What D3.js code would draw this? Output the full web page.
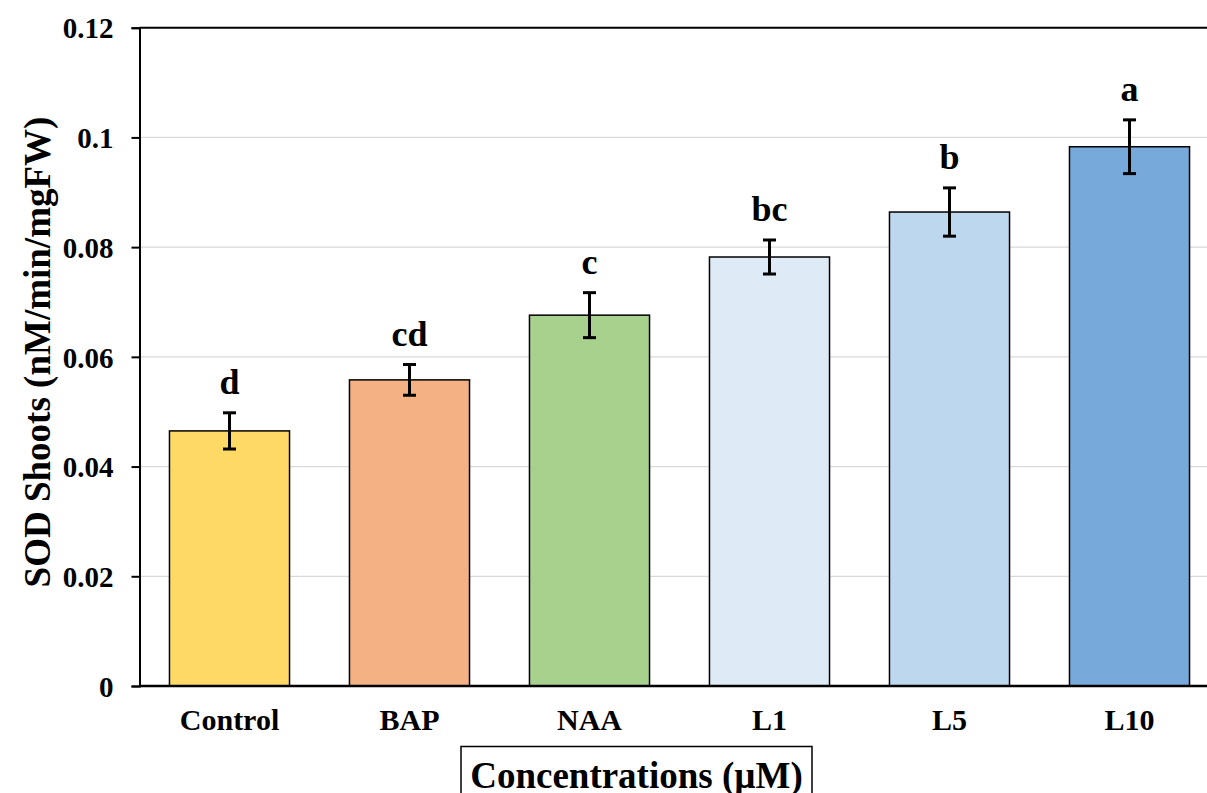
<!DOCTYPE html>
<html>
<head>
<style>
  body { margin: 0; background: #fff; }
  text { font-family: "Liberation Serif", "Times New Roman", serif; font-weight: bold; fill: #000; }
  .grid line { stroke: #d9d9d9; stroke-width: 1.3; }
</style>
<script src="https://d3js.org/d3.v7.min.js"></script>
</head>
<body>
<svg width="1207" height="793"></svg>
<script>
// chart data
var categories = ["Control", "BAP", "NAA", "L1", "L5", "L10"];
var values = [0.0465, 0.0558, 0.0676, 0.0782, 0.0864, 0.0983];
var errors = [0.0033, 0.0028, 0.0041, 0.0031, 0.0044, 0.0049];
var letters = ["d", "cd", "c", "bc", "b", "a"];
var yTicks = [0, 0.02, 0.04, 0.06, 0.08, 0.1, 0.12];
var colors = ["#FFD966", "#F4B183", "#A9D18E", "#DEEBF7", "#BDD7EE", "#77AADB"];

var svg = d3.select("svg");
var plotLeft = 139.5, plotTop = 27.7, plotBottom = 686, plotRight = 1219.5;

var x = d3.scaleBand().domain(categories).range([plotLeft, plotRight]).paddingInner(0.333).paddingOuter(0.1665);
var y = d3.scaleLinear().domain([0, 0.12]).range([plotBottom, plotTop]);

// gridlines
svg.append("g").attr("class", "grid")
  .selectAll("line").data(yTicks.filter(function(d) { return d > 0 && d < 0.12; }))
  .enter().append("line")
  .attr("x1", plotLeft).attr("x2", 1207)
  .attr("y1", function(d) { return y(d); }).attr("y2", function(d) { return y(d); });

// top border
svg.append("line").attr("x1", plotLeft).attr("x2", 1207).attr("y1", y(0.12)).attr("y2", y(0.12))
  .attr("stroke", "#000").attr("stroke-width", 2);

// bars
svg.append("g").selectAll("rect").data(values).enter().append("rect")
  .attr("x", function(d, i) { return x(categories[i]); })
  .attr("y", function(d) { return y(d); })
  .attr("width", x.bandwidth())
  .attr("height", function(d) { return y(0) - y(d); })
  .attr("fill", function(d, i) { return colors[i]; })
  .attr("stroke", "#000").attr("stroke-width", 1.5);

// error bars
var eb = svg.append("g").selectAll("g").data(values).enter().append("g")
  .attr("stroke", "#000").attr("stroke-width", 3);
eb.append("line")
  .attr("x1", function(d, i) { return x(categories[i]) + x.bandwidth() / 2; })
  .attr("x2", function(d, i) { return x(categories[i]) + x.bandwidth() / 2; })
  .attr("y1", function(d, i) { return y(d + errors[i]); })
  .attr("y2", function(d, i) { return y(d - errors[i]); });
[1, -1].forEach(function(s) {
  eb.append("line")
    .attr("x1", function(d, i) { return x(categories[i]) + x.bandwidth() / 2 - 6.5; })
    .attr("x2", function(d, i) { return x(categories[i]) + x.bandwidth() / 2 + 6.5; })
    .attr("y1", function(d, i) { return y(d + s * errors[i]); })
    .attr("y2", function(d, i) { return y(d + s * errors[i]); });
});

// significance letters
svg.append("g").selectAll("text").data(values).enter().append("text")
  .attr("x", function(d, i) { return x(categories[i]) + x.bandwidth() / 2; })
  .attr("y", function(d, i) { return y(d + errors[i]) - 19; })
  .attr("text-anchor", "middle")
  .style("font-size", "36px")
  .text(function(d, i) { return letters[i]; });

// y axis
var yAxis = svg.append("g").attr("transform", "translate(" + plotLeft + ",0)")
  .call(d3.axisLeft(y).tickValues(yTicks).tickSize(8).tickPadding(18)
    .tickFormat(function(d) { return d === 0 ? "0" : String(+d.toFixed(2)); }));
yAxis.select(".domain").attr("stroke", "#000").attr("stroke-width", 2);
yAxis.selectAll(".tick line").attr("stroke", "#000").attr("stroke-width", 2);
yAxis.selectAll("text").style("font-size", "29px").style("font-family", "Liberation Serif").attr("dy", "0.35em");

// x axis
var xAxis = svg.append("g").attr("transform", "translate(0," + plotBottom + ")")
  .call(d3.axisBottom(x).tickSize(0).tickPadding(23));
xAxis.select(".domain").attr("stroke", "#000").attr("stroke-width", 2.5)
  .attr("d", "M" + plotLeft + ",0H1207");
xAxis.selectAll("text").style("font-size", "30px").style("font-family", "Liberation Serif");

// y axis title
svg.append("text")
  .attr("transform", "translate(50,352) rotate(-90)")
  .attr("text-anchor", "middle")
  .style("font-size", "37px")
  .text("SOD Shoots (nM/min/mgFW)");

// x axis title in box
svg.append("rect").attr("x", 461).attr("y", 746.5).attr("width", 351).attr("height", 60)
  .attr("fill", "none").attr("stroke", "#000").attr("stroke-width", 1.5);
svg.append("text").attr("x", 636.5).attr("y", 788)
  .attr("text-anchor", "middle")
  .style("font-size", "37px")
  .text("Concentrations (\u00B5M)");
</script>
</body>
</html>
